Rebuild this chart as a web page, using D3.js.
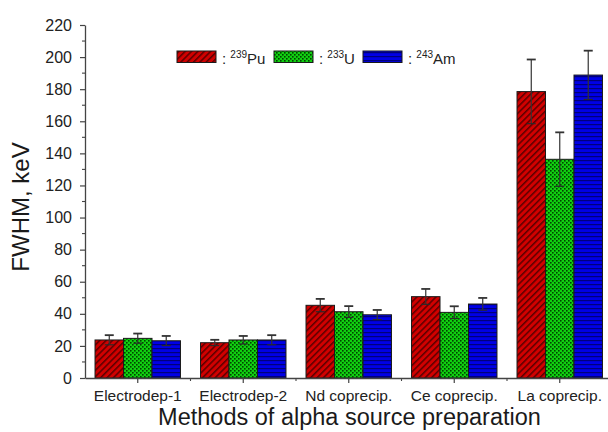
<!DOCTYPE html>
<html><head><meta charset="utf-8">
<script src="https://cdn.jsdelivr.net/npm/d3@7"></script>
<style>
html,body{margin:0;padding:0;background:#fff;}
svg{display:block;font-family:"Liberation Sans",Arial,Helvetica,sans-serif;}
</style></head>
<body>
<svg id="chart" width="608" height="432"></svg>
<script>
const categories = ["Electrodep-1","Electrodep-2","Nd coprecip.","Ce coprecip.","La coprecip."];
const seriesNames = ["239Pu","233U","243Am"];
const puValues = [23.7, 22.0, 45.3, 50.7, 178.5];
const puErrors = [3.0, 1.8, 4.0, 4.8, 20.0];
const uValues = [24.7, 23.7, 41.3, 40.9, 136.3];
const uErrors = [3.0, 2.5, 3.5, 3.8, 16.8];
const amValues = [23.2, 23.7, 39.4, 46.1, 188.8];
const amErrors = [3.0, 3.0, 3.0, 3.8, 15.2];
const yTicks = [0,20,40,60,80,100,120,140,160,180,200,220];

const series = [
  {name:"239Pu", sup:"239", el:"Pu", values:puValues, errors:puErrors, pat:"patPu"},
  {name:"233U", sup:"233", el:"U", values:uValues, errors:uErrors, pat:"patU"},
  {name:"243Am", sup:"243", el:"Am", values:amValues, errors:amErrors, pat:"patAm"}
];

const svg = d3.select("#chart");
const defs = svg.append("defs");
// red diagonal hatch
const p1 = defs.append("pattern").attr("id","patPu").attr("patternUnits","userSpaceOnUse")
  .attr("width",4.5).attr("height",4.5).attr("patternTransform","rotate(45)");
p1.append("rect").attr("width",4.5).attr("height",4.5).attr("fill","#d10000");
p1.append("rect").attr("x",0).attr("width",1.5).attr("height",4.5).attr("fill","#5a0000");
// green dots
const p2 = defs.append("pattern").attr("id","patU").attr("patternUnits","userSpaceOnUse")
  .attr("width",4).attr("height",4);
p2.append("rect").attr("width",4).attr("height",4).attr("fill","#10d010");
p2.append("rect").attr("x",0).attr("y",0).attr("width",1.6).attr("height",1.6).attr("fill","#004400");
p2.append("rect").attr("x",2).attr("y",2).attr("width",1.6).attr("height",1.6).attr("fill","#004400");
// blue horizontal lines
const p3 = defs.append("pattern").attr("id","patAm").attr("patternUnits","userSpaceOnUse")
  .attr("width",4).attr("height",4);
p3.append("rect").attr("width",4).attr("height",4).attr("fill","#0000e6");
p3.append("rect").attr("y",0).attr("width",4).attr("height",1.2).attr("fill","#00007a");

const x0 = 85, x1 = 612.5, yBottom = 378, yTop = 25;
const x = d3.scaleBand().domain(categories).range([x0,x1]).paddingInner(0.19).paddingOuter(0.095);
const xs = d3.scaleBand().domain(seriesNames).range([0,x.bandwidth()]);
const y = d3.scaleLinear().domain([0,220]).range([yBottom,yTop]);

// bars
series.forEach(s=>{
  const g = svg.append("g");
  g.selectAll("rect").data(categories).join("rect")
    .attr("x",(c)=>x(c)+xs(s.name))
    .attr("y",(c,i)=>y(s.values[i]))
    .attr("width",xs.bandwidth())
    .attr("height",(c,i)=>y(0)-y(s.values[i]))
    .attr("fill","url(#"+s.pat+")")
    .attr("stroke","#1a1a1a").attr("stroke-width",1);
});
// error bars
series.forEach(s=>{
  const g = svg.append("g").attr("stroke","#333").attr("stroke-width",1.2);
  categories.forEach((c,i)=>{
    const cx = x(c)+xs(s.name)+xs.bandwidth()/2;
    const hi = y(s.values[i]+s.errors[i]), lo = y(s.values[i]-s.errors[i]);
    g.append("line").attr("x1",cx).attr("x2",cx).attr("y1",hi).attr("y2",lo);
    g.append("line").attr("x1",cx-4.5).attr("x2",cx+4.5).attr("y1",hi).attr("y2",hi).attr("stroke-width",1.8);
    g.append("line").attr("x1",cx-4.5).attr("x2",cx+4.5).attr("y1",lo).attr("y2",lo).attr("stroke","#2a2a2a");
  });
});

// y axis
const yAxis = d3.axisLeft(y).tickValues(yTicks).tickSize(5).tickPadding(8).tickSizeOuter(0);
const gy = svg.append("g").attr("transform",`translate(${x0},0)`).call(yAxis);
gy.select(".domain").attr("stroke","#444").attr("stroke-width",1.3);
gy.selectAll(".tick line").attr("stroke","#444").attr("stroke-width",1.2);
gy.selectAll(".tick text").attr("font-size",16).attr("fill","#222")
  .attr("font-family","'Liberation Sans',Arial,sans-serif");
const minorY = d3.range(10,220,20);
gy.selectAll(".minor").data(minorY).join("line").attr("class","minor")
  .attr("x1",0).attr("x2",-3).attr("y1",d=>y(d)).attr("y2",d=>y(d))
  .attr("stroke","#444").attr("stroke-width",1.1);

// x axis
const xAxis = d3.axisBottom(x).tickSize(5).tickPadding(7).tickSizeOuter(0);
const gx = svg.append("g").attr("transform",`translate(0,${yBottom})`).call(xAxis);
gx.select(".domain").attr("stroke","#444").attr("stroke-width",1.3);
gx.selectAll(".tick line").attr("stroke","#444").attr("stroke-width",1.2);
gx.selectAll(".tick text").attr("font-size",15.5).attr("fill","#222")
  .attr("font-family","'Liberation Sans',Arial,sans-serif");
const bounds = categories.slice(1).map(c=>x(c)-x.step()*x.paddingInner()/2);
gx.selectAll(".minor").data(bounds).join("line").attr("class","minor")
  .attr("x1",d=>d).attr("x2",d=>d).attr("y1",0).attr("y2",3)
  .attr("stroke","#444").attr("stroke-width",1.1);

// axis titles
svg.append("text").attr("x",(x0+608)/2+3).attr("y",425).attr("text-anchor","middle")
  .attr("font-size",23.5).attr("fill","#1a1a1a").text("Methods of alpha source preparation");
svg.append("text").attr("transform","translate(29,207) rotate(-90)").attr("text-anchor","middle")
  .attr("font-size",24).attr("fill","#1a1a1a").text("FWHM, keV");

// legend
const legendX = [177, 274, 363];
const lg = svg.append("g");
series.forEach((s,i)=>{
  const lx = legendX[i];
  lg.append("rect").attr("x",lx).attr("y",51).attr("width",39).attr("height",11.5)
    .attr("fill","url(#"+s.pat+")").attr("stroke","#1a1a1a").attr("stroke-width",1);
  const t = lg.append("text").attr("x",lx+45).attr("y",64).attr("font-size",15).attr("fill","#222");
  t.append("tspan").text(": ");
  t.append("tspan").attr("font-size",10).attr("dy",-6).text(s.sup);
  t.append("tspan").attr("dy",6).text(s.el);
});
</script>
</body></html>
